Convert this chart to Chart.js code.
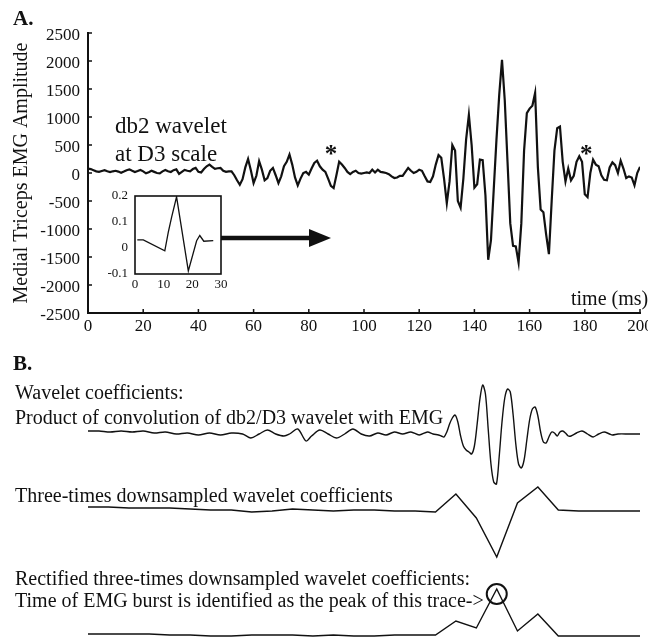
<!DOCTYPE html>
<html>
<head>
<meta charset="utf-8">
<script src="https://cdn.jsdelivr.net/npm/chart.js@4.4.1/dist/chart.umd.min.js"></script>
<style>
  html, body { margin: 0; padding: 0; background: #fff; }
  body { position: relative; width: 648px; height: 639px; overflow: hidden; }
  canvas { position: absolute; }
  #emgChart { left: 0; top: 0; }
  #waveletChart { left: 95px; top: 186px; }
  #coefChart { left: 0; top: 340px; }
</style>
</head>
<body>
<canvas id="emgChart" width="648" height="345"></canvas>
<canvas id="waveletChart" width="135" height="110"></canvas>
<canvas id="coefChart" width="648" height="299"></canvas>
<script>
const INK = '#111';
const SERIF = '"Liberation Serif", "Times New Roman", serif';

// Raw medial triceps EMG, one sample per ms (0..200 ms)
const emgAmplitude = [
  80, 70, 50, 30, 20, 35, 50, 30, 15, 30,
  40, 25, 5, 25, 50, 65, 40, 18, 35, 55,
  30, -5, 15, 40, 20, 0, -5, 30, 55, 30,
  18, 50, 65, -15, 20, 55, 40, 30, 70, 90,
  20, 10, 70, 120, 150, 110, 75, 85, 90, 40,
  20, 30, 30, -40, -130, -210, -110, 100, 250, 50,
  -180, -50, 210, 60, -130, -90, 40, 90, -40, -180,
  -60, 120, 200, 330, 150, -80, -220, -100, 0, 20,
  -30, 80, 180, 220, 120, 60, 20, -100, -230, -270,
  -40, 200, 150, 90, 20, -20, 20, 40, 0, -10,
  0, 10, 0, 60, 10, 60, 20, 10, 0, -20,
  -60, -90, -80, -50, -50, 20, 90, 40, 0, 20,
  60, 40, -60, -150, -160, -60, 150, 320, 270, -100,
  -540, -150, 500, 400, -500, -620, -100, 600, 1040, 500,
  -260, -200, 240, 230, -400, -1550, -1200, -300, 600, 1400,
  2020, 1300, 200, -900, -1300, -1310, -1600, -900, 400, 1070,
  1150, 1200, 1430, 100, -650, -700, -1100, -1450, -500, 400,
  800, 830, 200, -150, 80, -130, -50, 200, 300, 200,
  -380, -430, 0, 240, 150, 120, -40, -120, -130, 100,
  190, 140, 0, 220, 80, -90, -60, -80, -220, 0,
  110
];
const emgXTicks = [0, 20, 40, 60, 80, 100, 120, 140, 160, 180, 200];
const emgYTicks = [-2500, -2000, -1500, -1000, -500, 0, 500, 1000, 1500, 2000, 2500];
const starTimes = [88, 180.5];
const starLevel = 340;

// db2 wavelet at D3 scale (inset)
const waveletTime = [0.8, 2.9, 10.4, 11.6, 12.8, 14.5, 18.6, 21.5, 22.6, 24.0, 27.3];
const waveletValue = [0.031, 0.031, -0.011, 0.06, 0.12, 0.197, -0.088, 0.028, 0.048, 0.026, 0.028];

// Wavelet coefficients (convolution of db2/D3 with EMG)
const coefTime = [
  0, 4, 8, 12, 16, 20, 24, 28, 32, 36, 40, 44, 48, 52, 56,
  59, 62, 65, 68, 71, 73, 76, 79, 81, 84, 87, 90, 93, 96, 99,
  102, 105, 108, 111, 114, 117, 120, 123, 125,
  127, 128, 129, 130, 131, 132, 133, 134, 135, 136,
  137, 138, 139, 140, 141, 142, 143, 144, 145, 146,
  147, 148, 149, 150, 151, 152, 153, 154, 155, 156,
  157, 158, 159, 160, 161, 162, 163, 164, 165, 166,
  167, 168, 169, 170, 171, 172, 173, 174, 175,
  177, 179, 181, 183, 185, 187, 189, 190, 192, 196, 200
];
const coefValue = [
  3, 3, 2, 3, 2, 3, 1, 2, 0, 1, -1, 1, -1, 1, 0,
  -4, 0, 4, 0, -2, 0, 5, -7, -2, 4, 0, -4, 0, 5, 0,
  -2, 1, -1, 2, 0, 2, -1, 2, 0,
  -1, -2, -3, 2, 10, 16, 19, 12, -2, -12,
  -16, -18, -20, -12, 10, 35, 49, 40, 5, -30,
  -48, -50, -22, 12, 36, 45, 42, 20, -10, -30,
  -34, -26, -6, 14, 25, 27, 18, 2, -8, -9,
  -3, 2, 1, -2, 2, 3, 1, -2, -2,
  1, 3, 0, -3, 0, 2, 0, -1, 0, 0, 0
];

// Three-times downsampled coefficients and their rectified version
const dsTime = [0, 7.4, 14.8, 22.2, 29.6, 37, 44.4, 51.9, 59.3, 66.7, 74.1, 81.5, 88.9, 96.3,
  103.7, 111.1, 118.5, 125.9, 133.3, 140.7, 148.1, 155.6, 163, 170.4, 177.8, 185.2, 192.6, 200];
const dsValue = [3, 3, 2, 2, 2, 1, 0, 0, -2, -1, 1, 0, -1, 0,
  0, -1, -1, -2, 16, -8, -47, 7, 23, 0, -1, -1, -1, -1];
const rectValue = [2, 2, 2, 2, 1, 1, 0, 0, 1, 1, 1, 0, 1, 0,
  0, 1, 1, 1, 15, 8, 47, 5, 22, 0, 0, 0, 0, 0];

const toPoints = (xs, ys) => ys.map((v, i) => ({ x: xs[i], y: v }));

// ---------- Panel A: raw EMG ----------
const panelA = {
  id: 'panelA',
  afterDraw(chart) {
    const { ctx, chartArea, scales: { x, y } } = chart;
    ctx.save();
    ctx.strokeStyle = INK;
    ctx.fillStyle = INK;

    // small inward tick marks
    ctx.lineWidth = 1.5;
    ctx.beginPath();
    emgYTicks.forEach(v => {
      const py = y.getPixelForValue(v);
      ctx.moveTo(chartArea.left, py);
      ctx.lineTo(chartArea.left + 4, py);
    });
    emgXTicks.forEach(v => {
      const px = x.getPixelForValue(v);
      ctx.moveTo(px, chartArea.bottom);
      ctx.lineTo(px, chartArea.bottom - 4);
    });
    ctx.stroke();

    // asterisks over the marked events
    ctx.font = 'bold 25px ' + SERIF;
    ctx.textAlign = 'center';
    ctx.textBaseline = 'alphabetic';
    starTimes.forEach(t => {
      ctx.fillText('*', x.getPixelForValue(t), y.getPixelForValue(starLevel) + 8);
    });

    ctx.textAlign = 'left';
    ctx.font = '23px ' + SERIF;
    ctx.fillText('db2 wavelet', 115, 133);
    ctx.fillText('at D3 scale', 115, 161);
    ctx.font = '20px ' + SERIF;
    ctx.fillText('time (ms)', 571, 305);
    ctx.font = 'bold 21px ' + SERIF;
    ctx.fillText('A.', 13, 25);

    // arrow from the inset toward the trace
    ctx.lineWidth = 4.5;
    ctx.beginPath();
    ctx.moveTo(221, 238);
    ctx.lineTo(313, 238);
    ctx.stroke();
    ctx.beginPath();
    ctx.moveTo(309, 229);
    ctx.lineTo(331, 238);
    ctx.lineTo(309, 247);
    ctx.closePath();
    ctx.fill();
    ctx.restore();
  }
};

new Chart(document.getElementById('emgChart'), {
  type: 'line',
  data: {
    datasets: [{
      data: emgAmplitude.map((v, i) => ({ x: i, y: v })),
      borderColor: INK,
      borderWidth: 2.2,
      pointRadius: 0,
      tension: 0
    }]
  },
  options: {
    responsive: false,
    animation: false,
    devicePixelRatio: 1,
    layout: { padding: { top: 33, right: 8, left: 0, bottom: 0 } },
    plugins: { legend: { display: false }, tooltip: { enabled: false } },
    scales: {
      x: {
        type: 'linear',
        min: 0, max: 200,
        afterBuildTicks: s => { s.ticks = emgXTicks.map(v => ({ value: v })); },
        afterFit: s => { s.height = 32; s.paddingLeft = 0; s.paddingRight = 0; },
        grid: { display: false, drawTicks: false },
        border: { display: true, color: INK, width: 2 },
        ticks: {
          color: INK, padding: 3, maxRotation: 0, autoSkip: false,
          font: { family: SERIF, size: 17 },
          callback: v => String(v)
        }
      },
      y: {
        min: -2500, max: 2500,
        afterBuildTicks: s => { s.ticks = emgYTicks.map(v => ({ value: v })); },
        afterFit: s => { s.width = 88; s.paddingTop = 0; s.paddingBottom = 0; },
        grid: { display: false, drawTicks: false },
        border: { display: true, color: INK, width: 2 },
        title: {
          display: true,
          text: 'Medial Triceps EMG Amplitude',
          color: INK,
          font: { family: SERIF, size: 20 },
          padding: { top: 10, bottom: 0 }
        },
        ticks: {
          color: INK, padding: 8, labelOffset: 3, autoSkip: false,
          font: { family: SERIF, size: 17 },
          callback: v => String(v)
        }
      }
    }
  },
  plugins: [panelA]
});

// ---------- Inset: the db2 wavelet ----------
const insetBox = {
  id: 'insetBox',
  afterDraw(chart) {
    const { ctx, chartArea: a } = chart;
    ctx.save();
    ctx.strokeStyle = INK;
    ctx.lineWidth = 1.6;
    ctx.strokeRect(a.left, a.top, a.right - a.left, a.bottom - a.top);
    ctx.restore();
  }
};

new Chart(document.getElementById('waveletChart'), {
  type: 'line',
  data: {
    datasets: [{
      data: toPoints(waveletTime, waveletValue),
      borderColor: INK,
      borderWidth: 1.3,
      pointRadius: 0,
      tension: 0
    }]
  },
  options: {
    responsive: false,
    animation: false,
    devicePixelRatio: 1,
    layout: { padding: { top: 10, right: 9, left: 0, bottom: 0 } },
    plugins: { legend: { display: false }, tooltip: { enabled: false } },
    scales: {
      x: {
        type: 'linear', min: 0, max: 30,
        afterFit: s => { s.height = 22; s.paddingLeft = 0; s.paddingRight = 0; },
        grid: { display: false, drawTicks: false },
        border: { display: false },
        ticks: {
          stepSize: 10, color: INK, padding: 3, maxRotation: 0,
          font: { family: SERIF, size: 13 },
          callback: v => String(v)
        }
      },
      y: {
        min: -0.1, max: 0.2,
        afterFit: s => { s.width = 40; s.paddingTop = 0; s.paddingBottom = 0; },
        grid: { display: false, drawTicks: false },
        border: { display: false },
        ticks: {
          stepSize: 0.1, color: INK, padding: 7,
          font: { family: SERIF, size: 13 },
          callback: v => String(Math.round(v * 10) / 10)
        }
      }
    }
  },
  plugins: [insetBox]
});

// ---------- Panel B: coefficient traces ----------
const panelB = {
  id: 'panelB',
  afterDraw(chart) {
    const { ctx, scales } = chart;
    ctx.save();
    ctx.fillStyle = INK;
    ctx.strokeStyle = INK;
    ctx.textAlign = 'left';
    ctx.textBaseline = 'alphabetic';
    ctx.font = 'bold 21px ' + SERIF;
    ctx.fillText('B.', 13, 30);
    ctx.font = '20px ' + SERIF;
    ctx.fillText('Wavelet coefficients:', 15, 59);
    ctx.fillText('Product of convolution of db2/D3 wavelet with EMG', 15, 84);
    ctx.fillText('Three-times downsampled wavelet coefficients', 15, 162);
    ctx.fillText('Rectified three-times downsampled wavelet coefficients:', 15, 245);
    ctx.fillText('Time of EMG burst is identified as the peak of this trace->', 15, 267);

    // circle the peak of the rectified trace
    const peak = Math.max(...rectValue);
    const i = rectValue.indexOf(peak);
    const px = scales.x.getPixelForValue(dsTime[i]);
    const py = scales.y3.getPixelForValue(peak);
    ctx.lineWidth = 2;
    ctx.beginPath();
    ctx.arc(px, py + 5, 10, 0, Math.PI * 2);
    ctx.stroke();
    ctx.restore();
  }
};

const traceStyle = { borderColor: INK, borderWidth: 1.4, pointRadius: 0, tension: 0 };

new Chart(document.getElementById('coefChart'), {
  type: 'line',
  data: {
    datasets: [
      Object.assign({ data: toPoints(coefTime, coefValue), yAxisID: 'y1', tension: 0.3 }, { borderColor: INK, borderWidth: 1.4, pointRadius: 0 }),
      Object.assign({ data: toPoints(dsTime, dsValue), yAxisID: 'y2' }, traceStyle),
      Object.assign({ data: toPoints(dsTime, rectValue), yAxisID: 'y3' }, traceStyle)
    ]
  },
  options: {
    responsive: false,
    animation: false,
    devicePixelRatio: 1,
    layout: { padding: { top: 0, right: 8, left: 88, bottom: 0 } },
    plugins: { legend: { display: false }, tooltip: { enabled: false } },
    scales: {
      x: { type: 'linear', min: 0, max: 200, display: false },
      y1: { min: -205, max: 94, display: false },
      y2: { min: -129, max: 170, display: false },
      y3: { min: -3, max: 296, display: false }
    }
  },
  plugins: [panelB]
});
</script>
</body>
</html>
